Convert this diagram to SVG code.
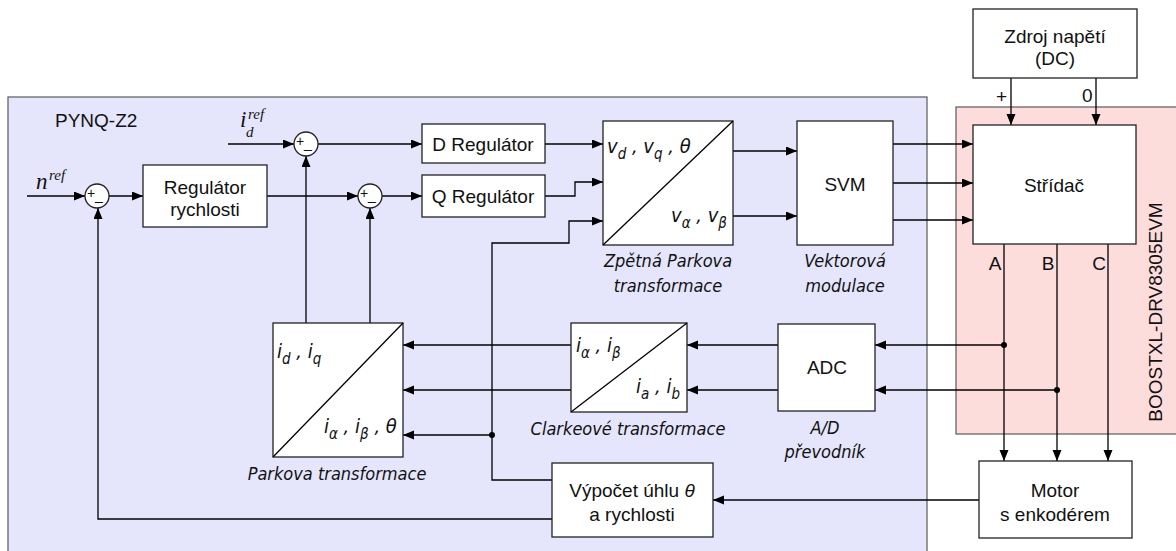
<svg xmlns="http://www.w3.org/2000/svg" width="1176" height="551" viewBox="0 0 1176 551">
<defs>
<marker id="arr" markerUnits="userSpaceOnUse" markerWidth="12" markerHeight="10" refX="11" refY="4.5" orient="auto">
<path d="M0,0 L11,4.5 L0,9 z" fill="#000"/>
</marker>
<style>
.box{fill:#fff;stroke:#222;stroke-width:1.3}
.sum{fill:#fff;stroke:#222;stroke-width:1.3}
.ln{fill:none;stroke:#000;stroke-width:1.3}
.a{marker-end:url(#arr)}
.t{font-family:"Liberation Sans",Arial,sans-serif;font-size:19px;fill:#111;text-anchor:middle}
.tl{font-family:"Liberation Sans",Arial,sans-serif;font-size:19px;fill:#111}
.it{font-family:"DejaVu Sans Condensed","DejaVu Sans",sans-serif;font-stretch:condensed;font-style:italic;font-size:18px;fill:#111;text-anchor:middle}
.mi{font-family:"DejaVu Sans Condensed","DejaVu Sans",sans-serif;font-stretch:condensed;font-style:italic;font-size:20px;fill:#111}
.ms{font-family:"Liberation Serif","Times New Roman",serif;font-style:italic;font-size:23px;fill:#111}
.mss{font-family:"Liberation Serif","Times New Roman",serif;font-style:italic;font-size:15px;fill:#111}
.pm{font-family:"Liberation Sans",Arial,sans-serif;font-size:14px;fill:#111}
.dot{fill:#000}
</style>
</defs>

<g id="pynq">
<rect x="8" y="97" width="919" height="456" fill="#e5e5fb" stroke="#666" stroke-width="1.3"/>
<text class="tl" x="55" y="127">PYNQ-Z2</text>
</g>
<g id="boostxl">
<rect x="956" y="107" width="222" height="327" fill="#fddcdc" stroke="#666" stroke-width="1.3"/>
<text class="t" transform="translate(1162,312) rotate(-90)">BOOSTXL-DRV8305EVM</text>
</g>

<g id="connectors">
<path class="ln a" d="M27,196 H85"/>
<path class="ln a" d="M109,196 H143"/>
<path class="ln a" d="M267,196 H358"/>
<path class="ln a" d="M228,144 H294"/>
<path class="ln a" d="M318,144 H422"/>
<path class="ln a" d="M382,196 H422"/>
<path class="ln a" d="M545,144 H603"/>
<path class="ln a" d="M545,196 H575 V182 H603"/>
<path class="ln a" d="M552,480 H492 V243 H569 V221 H603"/>
<path class="ln a" d="M492,435 H403"/>
<circle class="dot" cx="492" cy="435" r="3"/>
<path class="ln a" d="M733,151 H797"/>
<path class="ln a" d="M733,216 H797"/>
<path class="ln a" d="M893,144 H973"/>
<path class="ln a" d="M893,183 H973"/>
<path class="ln a" d="M893,220 H973"/>
<path class="ln a" d="M1011,78 V125"/>
<path class="ln a" d="M1096,78 V125"/>
<path class="ln a" d="M1004,244 V461"/>
<path class="ln a" d="M1057,244 V461"/>
<path class="ln a" d="M1108,244 V461"/>
<path class="ln a" d="M1004,345 H875"/>
<circle class="dot" cx="1004" cy="345" r="3"/>
<path class="ln a" d="M1057,390 H875"/>
<circle class="dot" cx="1057" cy="390" r="3"/>
<path class="ln a" d="M778,345 H687"/>
<path class="ln a" d="M778,390 H687"/>
<path class="ln a" d="M571,345 H403"/>
<path class="ln a" d="M571,390 H403"/>
<path class="ln a" d="M306,323 V156"/>
<path class="ln a" d="M370,323 V208"/>
<path class="ln a" d="M979,500 H713"/>
<path class="ln a" d="M552,519 H98 V208"/>
</g>

<g id="inputs">
<text class="ms" x="36" y="189">n</text>
<text class="mss" x="49" y="180">ref</text>
<text class="ms" x="240" y="127">i</text>
<text class="mss" x="246" y="137">d</text>
<text class="mss" x="248" y="119">ref</text>
</g>

<g id="sum-speed">
<circle class="sum" cx="97" cy="196" r="12"/>
<text class="pm" x="87" y="198">+</text>
<text class="pm" x="95" y="200">_</text>
</g>
<g id="sum-d">
<circle class="sum" cx="306" cy="144" r="12"/>
<text class="pm" x="296" y="146">+</text>
<text class="pm" x="304" y="148">_</text>
</g>
<g id="sum-q">
<circle class="sum" cx="370" cy="196" r="12"/>
<text class="pm" x="360" y="198">+</text>
<text class="pm" x="368" y="200">_</text>
</g>

<g id="reg-speed">
<rect class="box" x="143" y="165" width="124" height="62"/>
<text class="t" x="205" y="194">Regulátor</text>
<text class="t" x="205" y="216">rychlosti</text>
</g>
<g id="reg-d">
<rect class="box" x="422" y="124" width="123" height="39"/>
<text class="t" x="483" y="151">D Regulátor</text>
</g>
<g id="reg-q">
<rect class="box" x="422" y="175" width="123" height="42"/>
<text class="t" x="483" y="203">Q Regulátor</text>
</g>

<g id="inv-park">
<rect class="box" x="603" y="121" width="130" height="124"/>
<path class="ln" d="M603,245 L733,121"/>
<text class="mi" x="607" y="153">v<tspan font-size="15" dy="6">d</tspan><tspan dy="-6"> , v</tspan><tspan font-size="15" dy="6">q</tspan><tspan dy="-6"> , θ</tspan></text>
<text class="mi" x="671" y="222">v<tspan font-size="15" dy="6">α</tspan><tspan dy="-6"> , v</tspan><tspan font-size="15" dy="6">β</tspan></text>
<text class="it" x="668" y="267">Zpětná Parkova</text>
<text class="it" x="668" y="292">transformace</text>
</g>

<g id="svm">
<rect class="box" x="797" y="121" width="96" height="124"/>
<text class="t" x="845" y="191">SVM</text>
<text class="it" x="845" y="267">Vektorová</text>
<text class="it" x="845" y="292">modulace</text>
</g>

<g id="zdroj">
<rect class="box" x="973" y="9" width="164" height="69"/>
<text class="t" x="1055" y="43">Zdroj napětí</text>
<text class="t" x="1055" y="65">(DC)</text>
<text class="tl" x="996" y="103">+</text>
<text class="tl" x="1082" y="102">0</text>
</g>

<g id="stridac">
<rect class="box" x="973" y="125" width="163" height="119"/>
<text class="t" x="1054" y="192">Střídač</text>
<text class="t" x="995" y="270">A</text>
<text class="t" x="1048" y="270">B</text>
<text class="t" x="1099" y="270">C</text>
</g>

<g id="motor">
<rect class="box" x="979" y="461" width="153" height="77"/>
<text class="t" x="1055" y="497">Motor</text>
<text class="t" x="1055" y="521">s enkodérem</text>
</g>

<g id="adc">
<rect class="box" x="778" y="324" width="97" height="87"/>
<text class="t" x="827" y="374">ADC</text>
<text class="it" x="825" y="434">A/D</text>
<text class="it" x="825" y="458">převodník</text>
</g>

<g id="clarke">
<rect class="box" x="571" y="323" width="116" height="89"/>
<path class="ln" d="M571,412 L687,323"/>
<text class="mi" x="576" y="352">i<tspan font-size="15" dy="6">α</tspan><tspan dy="-6"> , i</tspan><tspan font-size="15" dy="6">β</tspan></text>
<text class="mi" x="636" y="393">i<tspan font-size="15" dy="6">a</tspan><tspan dy="-6"> , i</tspan><tspan font-size="15" dy="6">b</tspan></text>
<text class="it" x="628" y="435">Clarkeové transformace</text>
</g>

<g id="park">
<rect class="box" x="273" y="323" width="130" height="134"/>
<path class="ln" d="M273,457 L403,323"/>
<text class="mi" x="277" y="358">i<tspan font-size="15" dy="6">d</tspan><tspan dy="-6"> , i</tspan><tspan font-size="15" dy="6">q</tspan></text>
<text class="mi" x="324" y="433">i<tspan font-size="15" dy="6">α</tspan><tspan dy="-6"> , i</tspan><tspan font-size="15" dy="6">β</tspan><tspan dy="-6"> , θ</tspan></text>
<text class="it" x="337" y="480">Parkova transformace</text>
</g>

<g id="vypocet">
<rect class="box" x="552" y="463" width="161" height="74"/>
<text class="t" x="632" y="497">Výpočet úhlu <tspan font-style="italic">θ</tspan></text>
<text class="t" x="632" y="521">a rychlosti</text>
</g>
</svg>
